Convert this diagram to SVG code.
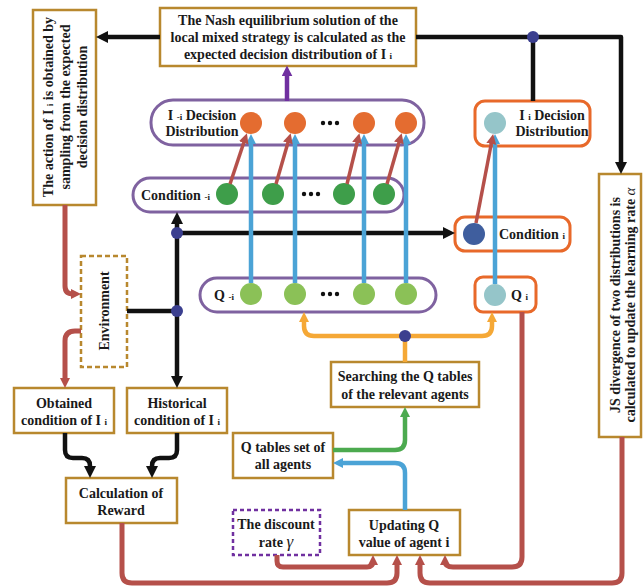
<svg xmlns="http://www.w3.org/2000/svg" width="644" height="588" viewBox="0 0 644 588">
<style>
.t{font-family:"Liberation Serif","Times New Roman",serif;font-weight:bold;font-size:14px;fill:#1a1a1a}
.m{text-anchor:middle}
.sub{font-size:9px}
.box{fill:#fff;stroke:#B8882E;stroke-width:2.5}
.dbox{fill:#fff;stroke:#B8882E;stroke-width:2.5;stroke-dasharray:5 3}
.pbox{fill:#fff;stroke:#7030A0;stroke-width:2.5;stroke-dasharray:4 3}
.cap{fill:#fff;stroke:#7F62A0;stroke-width:3}
.obox{fill:#fff;stroke:#E8692A;stroke-width:3}
.k{fill:none;stroke:#111;stroke-width:4.5;stroke-linejoin:round}
.r{fill:none;stroke:#B5504A;stroke-width:5}
.rd{fill:none;stroke:#B5504A;stroke-width:3.5}
.b{fill:none;stroke:#4BA3D6;stroke-width:4.5}
.o{fill:none;stroke:#F5A836;stroke-width:4.5}
.g{fill:none;stroke:#4CAA4F;stroke-width:4.5}
.p{fill:none;stroke:#7030A0;stroke-width:4.5}
.dot{fill:#3B3F8F}
.cO{fill:#E46C30}.cG{fill:#3E9E4A}.cL{fill:#8BC157}.cT{fill:#95C5C9}.cB{fill:#3F5E9E}
.dd{fill:#111}
</style>
<defs>
<marker id="ak" markerUnits="userSpaceOnUse" markerWidth="12" markerHeight="12" viewBox="0 0 12 12" refX="4" refY="6" orient="auto"><path d="M0,0 L12,6 L0,12 z" fill="#111"/></marker>
<marker id="ar" markerUnits="userSpaceOnUse" markerWidth="10" markerHeight="10" viewBox="0 0 10 10" refX="4" refY="5" orient="auto"><path d="M0,0 L10,5 L0,10 z" fill="#B5504A"/></marker>
<marker id="ab" markerUnits="userSpaceOnUse" markerWidth="10" markerHeight="10" viewBox="0 0 10 10" refX="4" refY="5" orient="auto"><path d="M0,0 L10,5 L0,10 z" fill="#4BA3D6"/></marker>
<marker id="ao" markerUnits="userSpaceOnUse" markerWidth="10" markerHeight="10" viewBox="0 0 10 10" refX="4" refY="5" orient="auto"><path d="M0,0 L10,5 L0,10 z" fill="#F5A836"/></marker>
<marker id="ag" markerUnits="userSpaceOnUse" markerWidth="10" markerHeight="10" viewBox="0 0 10 10" refX="4" refY="5" orient="auto"><path d="M0,0 L10,5 L0,10 z" fill="#4CAA4F"/></marker>
<marker id="ap" markerUnits="userSpaceOnUse" markerWidth="11" markerHeight="11" viewBox="0 0 10 10" refX="4" refY="5" orient="auto"><path d="M0,0 L10,5 L0,10 z" fill="#7030A0"/></marker>
</defs>
<rect width="644" height="588" fill="#fff"/>

<g id="nash">
<rect class="box" x="160" y="8" width="256" height="58"/>
<text class="t m" x="288" y="25">The Nash equilibrium solution of the</text>
<text class="t m" x="288" y="42">local mixed strategy is calculated as the</text>
<text class="t m" x="288" y="59">expected decision distribution of I <tspan class="sub">i</tspan></text>
</g>

<g id="action">
<rect class="box" x="33" y="10" width="63" height="195"/>
<text class="t m" transform="translate(53,107) rotate(-90)">The action of I <tspan class="sub">i</tspan> is obtained by</text>
<text class="t m" transform="translate(70,107) rotate(-90)">sampling from the expected</text>
<text class="t m" transform="translate(87,107) rotate(-90)">decision distribution</text>
</g>

<g id="js">
<rect class="box" x="599" y="174" width="42" height="263"/>
<text class="t m" transform="translate(620,305) rotate(-90)">JS divergence of two distributions is</text>
<text class="t m" transform="translate(635,305) rotate(-90)">calculated to update the learning rate <tspan font-style="italic" font-weight="normal" font-size="15">α</tspan></text>
</g>

<g id="decision-others">
<rect class="cap" x="151" y="100" width="273" height="45" rx="22"/>
<text class="t m" x="202" y="120">I <tspan class="sub">-i</tspan>  Decision</text>
<text class="t m" x="202" y="136">Distribution</text>
<circle class="cO" cx="251" cy="123" r="11"/>
<circle class="cO" cx="295" cy="123" r="11"/>
<circle class="cO" cx="364" cy="123" r="11"/>
<circle class="cO" cx="406" cy="123" r="11"/>
<circle class="dd" cx="323" cy="123" r="2.2"/><circle class="dd" cx="330" cy="123" r="2.2"/><circle class="dd" cx="337" cy="123" r="2.2"/>
</g>

<g id="decision-i">
<rect class="obox" x="475" y="101" width="115" height="45" rx="10"/>
<circle class="cT" cx="495" cy="123" r="11"/>
<text class="t m" x="552" y="120">I <tspan class="sub">i</tspan>  Decision</text>
<text class="t m" x="552" y="136">Distribution</text>
</g>

<g id="condition-others">
<rect class="cap" x="133" y="178" width="271" height="34" rx="17"/>
<text class="t" x="141" y="200">Condition <tspan class="sub">-i</tspan></text>
<circle class="cG" cx="227" cy="194" r="11"/>
<circle class="cG" cx="273" cy="194" r="11"/>
<circle class="cG" cx="344" cy="194" r="11"/>
<circle class="cG" cx="384" cy="194" r="11"/>
<circle class="dd" cx="304" cy="194" r="2.2"/><circle class="dd" cx="311" cy="194" r="2.2"/><circle class="dd" cx="318" cy="194" r="2.2"/>
</g>

<g id="condition-i">
<rect class="obox" x="455" y="217" width="115" height="34" rx="10"/>
<circle class="cB" cx="474" cy="234" r="11"/>
<text class="t" x="499" y="239">Condition <tspan class="sub">i</tspan></text>
</g>

<g id="q-others">
<rect class="cap" x="200" y="278" width="236" height="34" rx="17"/>
<text class="t" x="214" y="300">Q <tspan class="sub">-i</tspan></text>
<circle class="cL" cx="251" cy="294" r="11"/>
<circle class="cL" cx="295" cy="294" r="11"/>
<circle class="cL" cx="364" cy="294" r="11"/>
<circle class="cL" cx="406" cy="294" r="11"/>
<circle class="dd" cx="323" cy="294" r="2.2"/><circle class="dd" cx="330" cy="294" r="2.2"/><circle class="dd" cx="337" cy="294" r="2.2"/>
</g>

<g id="q-i">
<rect class="obox" x="475" y="277" width="61" height="35" rx="8"/>
<circle class="cT" cx="495" cy="295" r="11"/>
<text class="t" x="511" y="300">Q <tspan class="sub">i</tspan></text>
</g>

<g id="environment">
<rect class="dbox" x="81" y="256" width="46" height="111"/>
<text class="t m" transform="translate(109,311) rotate(-90)">Environment</text>
</g>

<g id="obtained">
<rect class="box" x="14" y="388" width="100" height="45"/>
<text class="t m" x="64" y="408">Obtained</text>
<text class="t m" x="64" y="425">condition of I <tspan class="sub">i</tspan></text>
</g>

<g id="historical">
<rect class="box" x="127" y="388" width="100" height="45"/>
<text class="t m" x="177" y="408">Historical</text>
<text class="t m" x="177" y="425">condition of I <tspan class="sub">i</tspan></text>
</g>

<g id="reward">
<rect class="box" x="66" y="478" width="111" height="45"/>
<text class="t m" x="121" y="498">Calculation of</text>
<text class="t m" x="121" y="515">Reward</text>
</g>

<g id="searching">
<rect class="box" x="331" y="362" width="148" height="45"/>
<text class="t m" x="405" y="381">Searching the Q tables</text>
<text class="t m" x="405" y="399">of the relevant agents</text>
</g>

<g id="qtables">
<rect class="box" x="233" y="433" width="100" height="45"/>
<text class="t m" x="283" y="452">Q tables set of</text>
<text class="t m" x="283" y="469">all agents</text>
</g>

<g id="discount">
<rect class="pbox" x="233" y="510" width="87" height="45"/>
<text class="t m" x="276" y="529">The discount</text>
<text class="t m" x="276" y="547">rate <tspan font-style="italic" font-weight="normal" font-size="17">γ</tspan></text>
</g>

<g id="updating">
<rect class="box" x="349" y="510" width="111" height="45"/>
<text class="t m" x="404" y="530">Updating Q</text>
<text class="t m" x="404" y="547">value of  agent i</text>
</g>

<g id="connectors">
<path class="k" d="M160,37 H104" marker-end="url(#ak)"/>
<path class="k" d="M416,37 H621 V166" marker-end="url(#ak)"/>
<path class="k" d="M533,37 V101"/>
<path class="k" d="M177,311 V220" marker-end="url(#ak)"/>
<path class="k" d="M177,311 V380" marker-end="url(#ak)"/>
<path class="k" d="M177,233 H447" marker-end="url(#ak)"/>
<path class="k" d="M127,311 H177"/>
<path class="k" d="M65,433 V450 Q65,458 73,458 H82 Q90,458 90,466 V470" marker-end="url(#ak)"/>
<path class="k" d="M177,433 V450 Q177,458 169,458 H160 Q152,458 152,466 V470" marker-end="url(#ak)"/>

<path class="p" d="M287,101 V72" marker-end="url(#ap)"/>

<path class="r" d="M65,205 V286 Q65,294 73,294 H75" marker-end="url(#ar)"/>
<path class="r" d="M81,331 H75 Q65,331 65,341 V382" marker-end="url(#ar)"/>
<path class="r" d="M122,523 V573 Q122,583 132,583 H387 Q397,583 397,573 V561" marker-end="url(#ar)"/>
<path class="r" d="M277,555 V561 Q277,567 283,567 H367 Q373,567 373,561" marker-end="url(#ar)"/>
<path class="r" d="M622,437 V573 Q622,583 612,583 H430 Q420,583 420,573 V561" marker-end="url(#ar)"/>
<path class="r" d="M522,312 V557 Q522,567 512,567 H453 Q445,567 445,561" marker-end="url(#ar)"/>

<path class="b" d="M251,283 V140" marker-end="url(#ab)"/>
<path class="b" d="M295,283 V140" marker-end="url(#ab)"/>
<path class="b" d="M364,283 V140" marker-end="url(#ab)"/>
<path class="b" d="M406,283 V140" marker-end="url(#ab)"/>
<path class="b" d="M495,284 V140" marker-end="url(#ab)"/>

<path class="rd" d="M230,184 L245,139" marker-end="url(#ar)"/>
<path class="rd" d="M276,184 L289,139" marker-end="url(#ar)"/>
<path class="rd" d="M347,184 L358,139" marker-end="url(#ar)"/>
<path class="rd" d="M387,184 L400,139" marker-end="url(#ar)"/>
<path class="rd" d="M476,223 L492,140" marker-end="url(#ar)"/>

<path class="o" d="M405,362 V336"/>
<path class="o" d="M405,336 H314 Q304,336 304,326 V318" marker-end="url(#ao)"/>
<path class="o" d="M405,336 H482 Q492,336 492,326 V318" marker-end="url(#ao)"/>
<path class="g" d="M333,450 H395 Q405,450 405,440 V413" marker-end="url(#ag)"/>
<path class="b" d="M405,510 V473 Q405,463 395,463 H339" marker-end="url(#ab)"/>

<circle class="dot" cx="533" cy="37" r="6"/>
<circle class="dot" cx="177" cy="233" r="6"/>
<circle class="dot" cx="177" cy="311" r="6"/>
<circle class="dot" cx="405" cy="336" r="6"/>
</g>
</svg>
